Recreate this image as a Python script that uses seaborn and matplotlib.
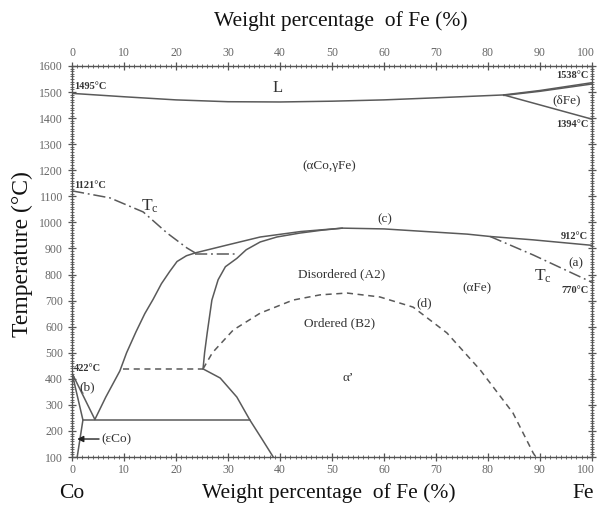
import numpy as np
import pandas as pd
import matplotlib
matplotlib.use("Agg")
import matplotlib.pyplot as plt
import matplotlib.transforms as mtransforms
import seaborn as sns

# ---- data (wt% Fe, temperature °C) ----
liquidus_x = [0, 10, 20, 30, 40, 50, 60, 70, 83, 90, 100]
liquidus_t = [1495, 1482, 1470, 1463, 1462, 1465, 1470, 1478, 1489, 1506, 1536]
delta_solidus_x = [83, 90, 100]
delta_solidus_t = [1487, 1503, 1531]
delta_lower_x = [83, 100]
delta_lower_t = [1489, 1396]

outer_x = [4.4, 6.5, 9.2, 10.5, 12.3, 14, 15.6, 17.2, 18.8, 20.2, 22, 23.7, 29.8, 36.2, 44, 52, 60, 68, 76, 80.4, 88.7, 100]
outer_t = [244, 330, 430, 500, 580, 650, 705, 765, 812, 850, 872, 883, 913, 944, 965, 978, 975, 965, 955, 946, 933, 912]

inner_x = [25.2, 25.5, 26, 26.9, 28.1, 29.5, 31.7, 33.5, 36.2, 39.4, 43.8, 48, 52]
inner_t = [438, 500, 576, 702, 780, 830, 862, 895, 925, 944, 959, 970, 978]

tc_left_x = [0, 7.3, 13.7, 18.3, 22.1, 23.7]
tc_left_t = [1121, 1094, 1040, 959, 902, 883]
tc_flat_x = [23.7, 31.5]
tc_flat_t = [878, 878]
tc_right_x = [80.4, 88.7, 100]
tc_right_t = [946, 875, 770]

dash_flat_x = [9.8, 25.2]
dash_flat_t = [438, 438]

lower_right_x = [25.2, 28.5, 31.7, 34.2, 36.5, 38.7]
lower_right_t = [438, 403, 330, 242, 170, 100]

eutectoid_x = [2.1, 34.2]
eutectoid_t = [242, 242]

b_line1_x = [0, 4.4]
b_line1_t = [422, 244]
b_line2_x = [0, 2.1, 1.0]
b_line2_t = [422, 242, 100]

order_x = [25.2, 27, 31, 36.2, 42.5, 47.7, 52.9, 59.2, 65.6, 72.1, 78.5, 84.8, 88.7, 89.2]
order_t = [438, 500, 587, 652, 702, 722, 729, 714, 675, 576, 434, 269, 115, 100]

x_ticks = list(range(0, 101, 10))
y_ticks = list(range(100, 1601, 100))

# ---- style ----
sns.set_style("ticks")
plt.rcParams["font.family"] = ["Liberation Serif", "DejaVu Serif"]
plt.rcParams["mathtext.fontset"] = "custom"
plt.rcParams["mathtext.rm"] = "Liberation Serif"
plt.rcParams["mathtext.it"] = "Liberation Serif"

fig = plt.figure(figsize=(5.98, 5.08), dpi=100)
ax = fig.add_axes([72 / 598, 1 - 457 / 508, 520 / 598, 391 / 508])

LC = "#5a5a5a"
LW = 1.1

def draw(xs, ts, ls="-"):
    df = pd.DataFrame({"x": xs, "t": ts})
    sns.lineplot(data=df, x="x", y="t", ax=ax, sort=False, estimator=None,
                 color=LC, linewidth=LW, linestyle=ls)

draw(liquidus_x, liquidus_t)
draw(delta_solidus_x, delta_solidus_t)
draw(delta_lower_x, delta_lower_t)
draw(outer_x, outer_t)
draw(inner_x, inner_t)
draw(lower_right_x, lower_right_t)
draw(eutectoid_x, eutectoid_t)
draw(b_line1_x, b_line1_t)
draw(b_line2_x, b_line2_t)
dashdot = (0, (8, 2.5, 1.2, 2.5))
draw(tc_left_x, tc_left_t, dashdot)
draw(tc_flat_x, tc_flat_t, dashdot)
draw(tc_right_x, tc_right_t, dashdot)
dashed = (0, (4, 3))
draw(dash_flat_x, dash_flat_t, dashed)
draw(order_x, order_t, dashed)

ax.set_xlim(0, 100)
ax.set_ylim(100, 1600)
ax.set_xticks(x_ticks)
ax.set_yticks(y_ticks)
ax.set_xticks(np.arange(0, 101, 1), minor=True)
ax.set_yticks(np.arange(100, 1601, 10), minor=True)
ax.set_xlabel("")
ax.set_ylabel("")
for s in ax.spines.values():
    s.set_color("#555555")
    s.set_linewidth(1.0)
ax.tick_params(which="both", top=True, right=True, labeltop=True, direction="inout",
               colors="#555555", labelcolor="#666666", labelsize=8.5)
ax.tick_params(which="major", length=6, width=0.9)
ax.tick_params(which="minor", length=3, width=0.6)
ax.tick_params(axis="x", which="both", pad=2)

# keep the "100" labels inside the picture
fig.canvas.draw()
shift = mtransforms.ScaledTranslation(-6 / 100, 0, fig.dpi_scale_trans)
for tick in ax.xaxis.get_major_ticks():
    if abs(tick.get_loc() - 100) < 1e-6:
        for lbl in (tick.label1, tick.label2):
            lbl.set_transform(lbl.get_transform() + shift)

TC = "#333333"
# temperature labels
bold = dict(fontsize=7.5, fontweight="bold", color=TC)
ax.text(0.4, 1505, "1495°C", ha="left", va="bottom", **bold)
ax.text(99.3, 1548, "1538°C", ha="right", va="bottom", **bold)
ax.text(99.3, 1375, "1394°C", ha="right", va="center", **bold)
ax.text(0.4, 1140, "1121°C", ha="left", va="center", **bold)
ax.text(99.3, 945, "912°C", ha="right", va="center", **bold)
ax.text(99.3, 738, "770°C", ha="right", va="center", **bold)
ax.text(0.4, 440, "422°C", ha="left", va="center", **bold)

lab = dict(fontsize=9.5, color=TC, ha="center", va="center")
ax.text(39.6, 1516, "L", fontsize=12, color=TC, ha="center", va="center")
ax.text(95.2, 1468, "(δFe)", **lab)
ax.text(49.4, 1216, "(αCo,γFe)", **lab)
ax.text(15.0, 1062, "T$_{\\rm c}$", fontsize=12.5, color=TC, ha="center", va="center")
ax.text(60.2, 1013, "(c)", **lab)
ax.text(96.9, 844, "(a)", **lab)
ax.text(90.6, 795, "T$_{\\rm c}$", fontsize=12.5, color=TC, ha="center", va="center")
ax.text(51.9, 802, "Disordered (A2)", **lab)
ax.text(77.9, 748, "(αFe)", **lab)
ax.text(67.7, 690, "(d)", **lab)
ax.text(51.4, 614, "Ordered (B2)", **lab)
ax.text(53.1, 403, "α’", **lab)
ax.text(3.0, 369, "(b)", **lab)
ax.text(5.6, 169, "(εCo)", fontsize=9.5, color=TC, ha="left", va="center")
ax.annotate("", xy=(1.0, 169), xytext=(5.2, 169),
            arrowprops=dict(arrowstyle="-|>", color="#222222", lw=1.0,
                            mutation_scale=9, shrinkA=0, shrinkB=0))

# axis titles
fig.text(341 / 598, 1 - 21 / 508, "Weight percentage  of Fe (%)", fontsize=15.5,
         ha="center", va="center", color="#111111")
fig.text(329 / 598, 1 - 493 / 508, "Weight percentage  of Fe (%)", fontsize=15.5,
         ha="center", va="center", color="#111111")
fig.text(72 / 598, 1 - 494 / 508, "Co", fontsize=15.5, ha="center", va="center", color="#111111")
fig.text(583 / 598, 1 - 493 / 508, "Fe", fontsize=15.5, ha="center", va="center", color="#111111")
fig.text(22 / 598, 1 - 254 / 508, "Temperature (°C)", fontsize=17, rotation=90,
         ha="center", va="center", color="#111111")

fig.savefig("out.png", dpi=100, facecolor="white")
